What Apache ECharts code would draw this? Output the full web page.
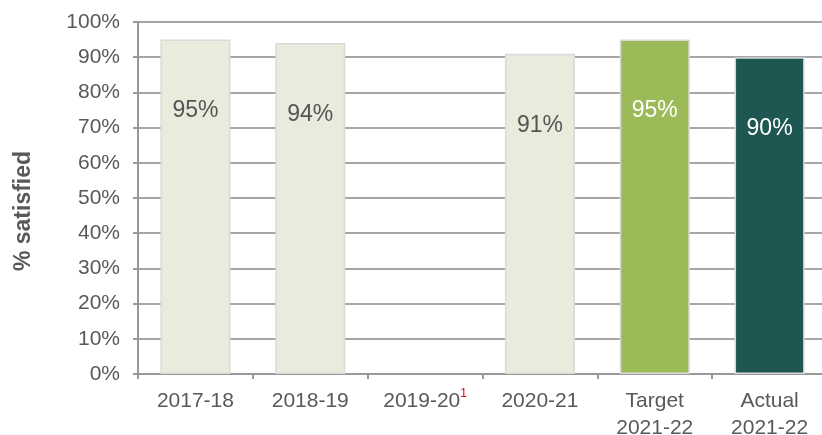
<!DOCTYPE html>
<html><head><meta charset="utf-8">
<script src="https://cdn.jsdelivr.net/npm/echarts@6/dist/echarts.min.js"></script>
<style>html,body{margin:0;padding:0;background:#fff}#c{width:822px;height:435px}</style>
</head><body><div id="c"></div>
<script>
const categories = ['2017-18', '2018-19', '2019-20', '2020-21', 'Target\n2021-22', 'Actual\n2021-22'];
const values = [95, 94, null, 91, 95, 90];
const barColors = ['#e9ebdc', '#e9ebdc', '#e9ebdc', '#e9ebdc', '#9bbb59', '#1e5652'];
const labelColors = ['#555', '#555', '#555', '#555', '#fff', '#fff'];
const yTicks = [0, 10, 20, 30, 40, 50, 60, 70, 80, 90, 100];

const chart = echarts.init(document.getElementById('c'));
chart.setOption({
  animation: false,
  grid: { left: 138, right: -5, top: 22, bottom: 61, containLabel: false, outerBoundsMode: 'none' },
  xAxis: {
    type: 'category', data: categories,
    axisLine: { lineStyle: { color: '#999', width: 2 } },
    axisTick: { show: true, length: 5, lineStyle: { color: '#999', width: 2 } },
    axisLabel: {
      interval: 0,
      color: '#595959', fontSize: 21, fontFamily: 'Liberation Sans, Arial', margin: 14, lineHeight: 27,
      formatter: v => v === '2019-20' ? '2019-20{s|1}' : v,
      rich: { s: { color: '#e00000', fontSize: 12, verticalAlign: 'top', padding: [0, 0, 12, 0] } }
    }
  },
  yAxis: {
    type: 'value', min: 0, max: 100, interval: 10,
    name: '% satisfied', nameLocation: 'middle', nameRotate: 90, nameGap: 103,
    nameTextStyle: { color: '#595959', fontSize: 23, fontWeight: 'bold', fontFamily: 'Liberation Sans, Arial',
      padding: [0, 26, 0, 0] },
    axisLine: { show: true, lineStyle: { color: '#999', width: 2 } },
    axisTick: { show: true, length: 5, lineStyle: { color: '#999', width: 2 } },
    axisLabel: { color: '#595959', fontSize: 21, fontFamily: 'Liberation Sans, Arial', margin: 18,
      formatter: v => yTicks.includes(v) ? v + '%' : '' },
    splitLine: { lineStyle: { color: '#a6a6a6', width: 2 } }
  },
  series: [{
    type: 'bar', barWidth: '61%',
    data: values.map((v, i) => ({
      value: v,
      itemStyle: { color: barColors[i], borderColor: '#d9d9d9', borderWidth: 1.5 },
      label: { color: labelColors[i] }
    })),
    label: { show: true, position: 'insideTop', distance: 60, fontSize: 23, fontFamily: 'Liberation Sans, Arial',
      formatter: p => p.value + '%' }
  }]
});
</script></body></html>
